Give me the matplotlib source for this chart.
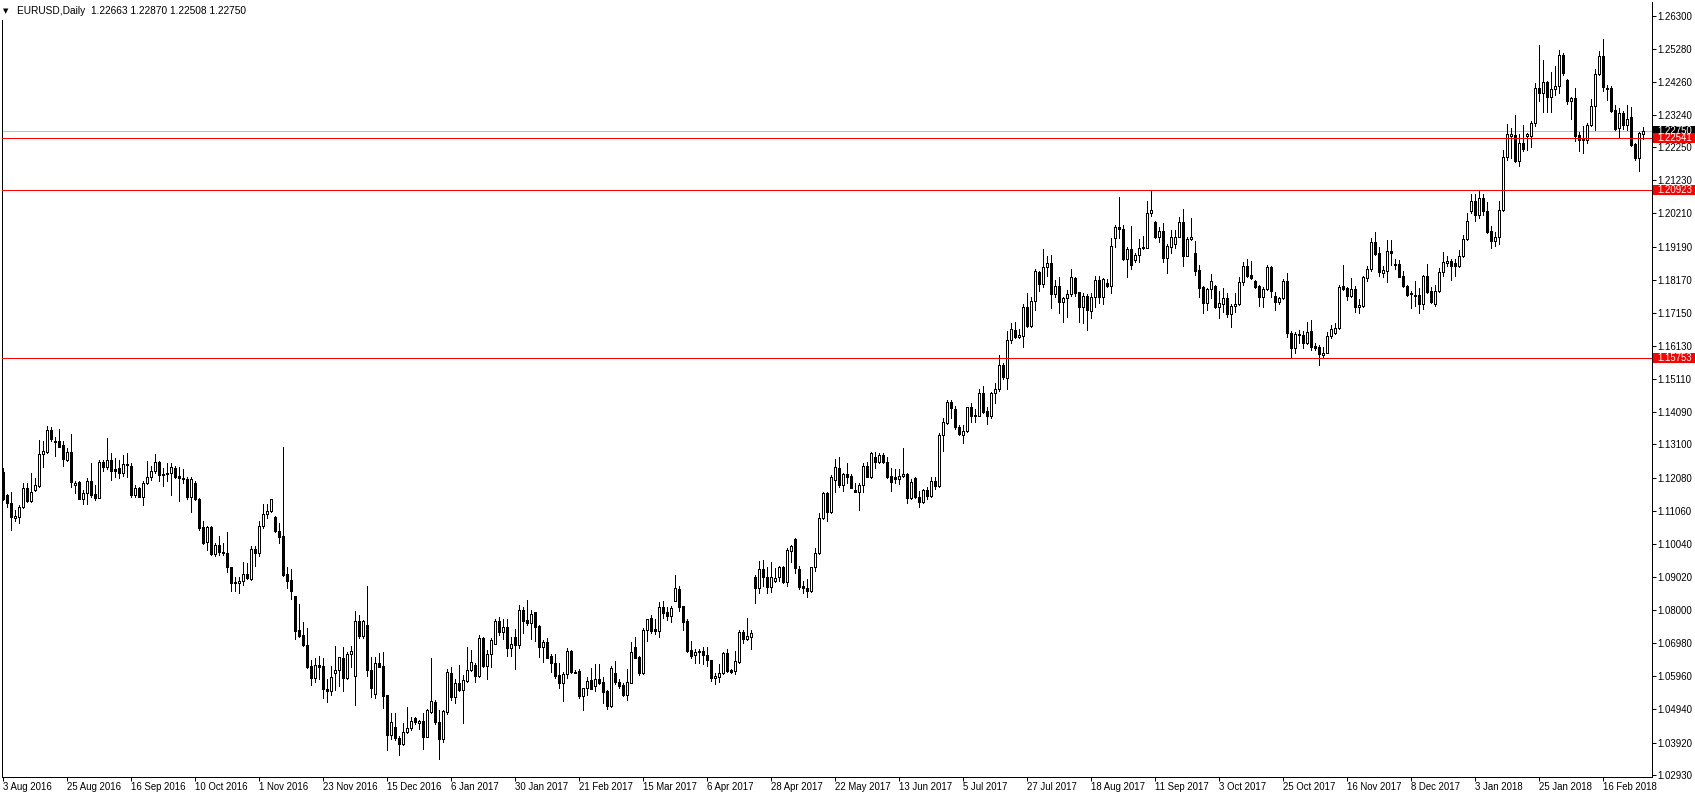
import numpy as np
import matplotlib
matplotlib.use("Agg")
import matplotlib.pyplot as plt
from matplotlib.patches import Rectangle
import matplotlib.transforms as mtransforms

plt.rcParams['font.family'] = ['Liberation Sans', 'DejaVu Sans']

# EURUSD daily candles, prices in points (1/10000)
opens = [11226, 11153, 11129, 11083, 11088, 11116, 11175, 11137, 11170, 11182, 11280, 11288, 11355, 11321, 11320, 11308,
         11262, 11286, 11184, 11193, 11143, 11160, 11198, 11157, 11146, 11256, 11239, 11262, 11235, 11237, 11221, 11246,
         11244, 11153, 11175, 11149, 11190, 11209, 11228, 11255, 11219, 11219, 11221, 11237, 11213, 11207, 11205, 11149,
         11190, 11142, 11055, 11009, 11056, 10973, 11000, 10980, 10975, 10932, 10885, 10883, 10888, 10911, 10896, 10988,
         10977, 11059, 11095, 11106, 11086, 11043, 11028, 10911, 10893, 10842, 10739, 10724, 10693, 10628, 10590, 10630,
         10628, 10556, 10552, 10606, 10616, 10652, 10590, 10665, 10598, 10767, 10721, 10754, 10616, 10541, 10636, 10628,
         10537, 10416, 10439, 10406, 10387, 10424, 10436, 10467, 10451, 10457, 10410, 10487, 10517, 10455, 10403, 10485,
         10605, 10531, 10574, 10554, 10583, 10614, 10631, 10598, 10714, 10629, 10664, 10697, 10766, 10731, 10748, 10682,
         10716, 10693, 10800, 10769, 10759, 10794, 10751, 10685, 10701, 10658, 10636, 10600, 10576, 10602, 10674, 10610,
         10612, 10536, 10559, 10585, 10566, 10587, 10577, 10551, 10506, 10605, 10580, 10570, 10540, 10576, 10686, 10656,
         10605, 10738, 10776, 10741, 10737, 10808, 10793, 10783, 10829, 10864, 10812, 10767, 10676, 10663, 10670, 10673,
         10663, 10645, 10590, 10595, 10605, 10667, 10614, 10612, 10641, 10731, 10710, 10718, 10901, 10867, 10926, 10903,
         10872, 10891, 10901, 10932, 10885, 10983, 11019, 10927, 10874, 10867, 10860, 10932, 10975, 11082, 11161, 11102,
         11201, 11237, 11184, 11219, 11213, 11170, 11162, 11185, 11244, 11211, 11272, 11255, 11277, 11255, 11213, 11209,
         11203, 11213, 11219, 11146, 11206, 11149, 11134, 11169, 11152, 11196, 11181, 11339, 11377, 11440, 11419, 11365,
         11340, 11350, 11424, 11400, 11399, 11467, 11413, 11396, 11467, 11480, 11554, 11516, 11630, 11662, 11640, 11645,
         11732, 11676, 11753, 11840, 11803, 11855, 11868, 11772, 11798, 11750, 11760, 11772, 11821, 11778, 11734, 11767,
         11722, 11763, 11815, 11763, 11806, 11799, 11945, 11978, 11973, 11882, 11912, 11879, 11893, 11918, 11916, 12021,
         11996, 11950, 11967, 11885, 11919, 11927, 11950, 11994, 11891, 11941, 11898, 11846, 11795, 11744, 11788, 11798,
         11732, 11743, 11760, 11711, 11737, 11741, 11809, 11859, 11832, 11814, 11798, 11765, 11788, 11855, 11768, 11747,
         11760, 11813, 11654, 11606, 11650, 11647, 11621, 11659, 11613, 11611, 11585, 11593, 11644, 11654, 11668, 11798,
         11791, 11768, 11790, 11733, 11737, 11822, 11850, 11932, 11899, 11837, 11845, 11906, 11865, 11865, 11829, 11798,
         11776, 11770, 11771, 11742, 11829, 11781, 11743, 11781, 11840, 11870, 11875, 11868, 11858, 11889, 11942, 12030,
         12058, 12015, 12068, 12029, 11967, 11935, 11948, 12031, 12195, 12261, 12263, 12184, 12237, 12261, 12261, 12299,
         12407, 12391, 12425, 12381, 12404, 12414, 12509, 12432, 12366, 12377, 12263, 12251, 12246, 12292, 12352, 12451,
         12506, 12408, 12408, 12340, 12283, 12330, 12294, 12317, 12235, 12193, 12266]
highs = [11237, 11157, 11163, 11108, 11124, 11190, 11190, 11221, 11206, 11324, 11319, 11367, 11365, 11334, 11357, 11319,
         11298, 11342, 11196, 11196, 11170, 11206, 11252, 11185, 11262, 11262, 11329, 11285, 11267, 11262, 11278, 11283,
         11252, 11185, 11180, 11196, 11259, 11244, 11281, 11260, 11237, 11252, 11252, 11244, 11242, 11234, 11211, 11211,
         11196, 11144, 11073, 11059, 11059, 11008, 11028, 11006, 11040, 10934, 10903, 10903, 10947, 10944, 10996, 10996,
         11073, 11127, 11127, 11143, 11090, 11069, 11301, 10932, 10926, 10842, 10819, 10762, 10746, 10647, 10652, 10660,
         10652, 10587, 10629, 10688, 10657, 10686, 10672, 10690, 10798, 10785, 10770, 10874, 10657, 10657, 10669, 10670,
         10539, 10483, 10483, 10413, 10452, 10501, 10470, 10472, 10463, 10484, 10494, 10653, 10523, 10492, 10492, 10618,
         10626, 10587, 10631, 10600, 10687, 10677, 10638, 10723, 10718, 10677, 10713, 10773, 10779, 10772, 10772, 10716,
         10743, 10815, 10808, 10831, 10800, 10795, 10753, 10708, 10713, 10665, 10665, 10636, 10610, 10683, 10677, 10615,
         10617, 10561, 10595, 10622, 10634, 10634, 10595, 10554, 10629, 10643, 10587, 10576, 10618, 10703, 10718, 10658,
         10744, 10774, 10785, 10771, 10824, 10828, 10808, 10812, 10908, 10875, 10813, 10771, 10705, 10679, 10679, 10687,
         10687, 10646, 10607, 10634, 10672, 10679, 10617, 10674, 10738, 10738, 10777, 10740, 10908, 10952, 10954, 10934,
         10947, 10929, 10936, 10936, 10990, 11000, 11021, 10936, 10888, 10895, 10934, 10990, 11100, 11165, 11165, 11216,
         11265, 11272, 11223, 11252, 11219, 11192, 11190, 11254, 11257, 11286, 11286, 11285, 11283, 11272, 11236, 11234,
         11233, 11300, 11223, 11204, 11209, 11166, 11172, 11180, 11209, 11211, 11344, 11390, 11447, 11447, 11428, 11370,
         11370, 11426, 11439, 11419, 11480, 11490, 11424, 11472, 11498, 11586, 11560, 11659, 11685, 11688, 11664, 11742,
         11777, 11765, 11849, 11845, 11912, 11890, 11893, 11816, 11827, 11765, 11786, 11849, 11827, 11780, 11777, 11773,
         11777, 11829, 11829, 11823, 11818, 11945, 11986, 12073, 11986, 11919, 11983, 11900, 11941, 11952, 12060, 12091,
         11999, 11980, 11991, 11927, 11970, 11970, 12009, 12034, 11948, 12008, 11936, 11862, 11798, 11791, 11835, 11800,
         11783, 11791, 11777, 11742, 11775, 11827, 11872, 11882, 11875, 11816, 11801, 11794, 11861, 11859, 11780, 11763,
         11818, 11837, 11659, 11657, 11662, 11659, 11688, 11693, 11621, 11616, 11609, 11657, 11678, 11683, 11801, 11863,
         11796, 11822, 11798, 11757, 11830, 11858, 11945, 11963, 11919, 11858, 11940, 11940, 11880, 11878, 11845, 11801,
         11781, 11814, 11793, 11832, 11865, 11796, 11801, 11853, 11901, 11889, 11880, 11880, 11909, 11955, 12024, 12081,
         12081, 12092, 12081, 12055, 11981, 11965, 12058, 12217, 12297, 12284, 12325, 12265, 12294, 12270, 12306, 12422,
         12540, 12494, 12429, 12456, 12475, 12525, 12514, 12434, 12381, 12407, 12273, 12289, 12299, 12374, 12465, 12520,
         12559, 12417, 12414, 12355, 12345, 12338, 12355, 12348, 12239, 12271, 12287]
lows = [11139, 11117, 11045, 11073, 11069, 11114, 11134, 11132, 11168, 11178, 11242, 11285, 11322, 11273, 11302, 11245,
        11260, 11180, 11159, 11141, 11127, 11127, 11149, 11139, 11144, 11229, 11234, 11201, 11211, 11206, 11213, 11211,
        11149, 11149, 11147, 11124, 11188, 11201, 11223, 11196, 11182, 11196, 11153, 11208, 11137, 11190, 11141, 11103,
        11139, 11047, 11004, 10985, 10970, 10965, 10968, 10969, 10916, 10860, 10860, 10852, 10876, 10895, 10893, 10937,
        10965, 11052, 11083, 11103, 11040, 11008, 10906, 10867, 10833, 10710, 10716, 10688, 10621, 10570, 10580, 10588,
        10529, 10518, 10539, 10554, 10565, 10552, 10587, 10626, 10508, 10713, 10713, 10597, 10532, 10529, 10626, 10498,
        10370, 10403, 10401, 10354, 10383, 10423, 10431, 10450, 10433, 10372, 10408, 10484, 10449, 10342, 10393, 10480,
        10523, 10513, 10552, 10453, 10579, 10612, 10579, 10595, 10626, 10589, 10626, 10694, 10723, 10710, 10658, 10658,
        10620, 10684, 10730, 10754, 10711, 10706, 10656, 10641, 10651, 10610, 10592, 10561, 10521, 10592, 10605, 10605,
        10528, 10492, 10538, 10557, 10552, 10572, 10515, 10496, 10503, 10572, 10559, 10536, 10524, 10574, 10651, 10600,
        10603, 10706, 10728, 10725, 10718, 10776, 10769, 10762, 10829, 10798, 10738, 10672, 10653, 10636, 10636, 10634,
        10629, 10582, 10571, 10579, 10603, 10608, 10607, 10603, 10638, 10699, 10708, 10680, 10821, 10852, 10874, 10852,
        10857, 10885, 10888, 10882, 10874, 10949, 10915, 10864, 10854, 10839, 10857, 10921, 10973, 11080, 11075, 11098,
        11162, 11178, 11168, 11192, 11175, 11162, 11108, 11165, 11209, 11206, 11236, 11252, 11252, 11206, 11168, 11192,
        11188, 11211, 11131, 11141, 11146, 11118, 11131, 11141, 11149, 11172, 11180, 11291, 11373, 11392, 11356, 11339,
        11313, 11348, 11380, 11380, 11396, 11408, 11372, 11392, 11436, 11475, 11510, 11480, 11621, 11637, 11637, 11611,
        11673, 11670, 11724, 11783, 11796, 11830, 11729, 11763, 11716, 11688, 11703, 11767, 11767, 11688, 11683, 11662,
        11698, 11734, 11744, 11741, 11796, 11775, 11917, 11945, 11878, 11825, 11849, 11873, 11871, 11911, 11914, 12013,
        11945, 11932, 11873, 11839, 11900, 11914, 11948, 11860, 11890, 11939, 11831, 11765, 11716, 11724, 11762, 11729,
        11698, 11719, 11703, 11671, 11719, 11739, 11801, 11827, 11818, 11793, 11736, 11734, 11786, 11765, 11724, 11742,
        11757, 11642, 11575, 11593, 11623, 11606, 11618, 11601, 11601, 11555, 11580, 11591, 11637, 11650, 11665, 11786,
        11755, 11763, 11719, 11714, 11733, 11812, 11845, 11894, 11829, 11824, 11809, 11863, 11850, 11824, 11796, 11768,
        11730, 11735, 11716, 11726, 11776, 11745, 11737, 11778, 11829, 11858, 11817, 11829, 11856, 11887, 11938, 12022,
        11998, 12007, 12017, 11962, 11916, 11921, 11928, 12029, 12186, 12191, 12181, 12168, 12212, 12215, 12227, 12291,
        12366, 12335, 12335, 12335, 12386, 12391, 12448, 12358, 12313, 12245, 12212, 12207, 12239, 12289, 12278, 12448,
        12399, 12371, 12335, 12278, 12256, 12280, 12278, 12229, 12186, 12153, 12251]
closes = [11141, 11129, 11086, 11090, 11117, 11175, 11137, 11163, 11185, 11280, 11290, 11355, 11326, 11317, 11303, 11264,
          11286, 11193, 11190, 11143, 11160, 11198, 11155, 11146, 11256, 11239, 11262, 11229, 11229, 11221, 11249, 11250,
          11155, 11175, 11149, 11190, 11209, 11229, 11255, 11216, 11216, 11221, 11240, 11211, 11206, 11205, 11149, 11204,
          11141, 11053, 11008, 11057, 10973, 11000, 10980, 10975, 10932, 10883, 10883, 10888, 10910, 10898, 10988, 10977,
          11059, 11095, 11106, 11141, 11042, 11026, 10908, 10891, 10860, 10737, 10721, 10691, 10624, 10590, 10631, 10626,
          10556, 10552, 10595, 10616, 10654, 10590, 10665, 10674, 10767, 10721, 10767, 10614, 10560, 10636, 10626, 10536,
          10416, 10455, 10406, 10387, 10424, 10436, 10457, 10455, 10458, 10410, 10492, 10519, 10456, 10403, 10488, 10609,
          10531, 10574, 10554, 10585, 10614, 10641, 10598, 10714, 10629, 10664, 10708, 10766, 10731, 10748, 10682, 10697,
          10693, 10800, 10767, 10759, 10787, 10749, 10685, 10701, 10653, 10638, 10598, 10576, 10602, 10674, 10608, 10605,
          10536, 10559, 10583, 10557, 10587, 10576, 10549, 10506, 10622, 10577, 10567, 10538, 10577, 10670, 10653, 10605,
          10738, 10772, 10735, 10737, 10808, 10792, 10783, 10805, 10867, 10808, 10764, 10674, 10658, 10671, 10673, 10661,
          10645, 10592, 10597, 10605, 10667, 10612, 10610, 10644, 10731, 10710, 10720, 10728, 10867, 10926, 10903, 10872,
          10901, 10898, 10932, 10885, 10985, 10998, 10929, 10872, 10867, 10860, 10932, 10975, 11083, 11161, 11102, 11210,
          11241, 11184, 11219, 11211, 11177, 11162, 11185, 11244, 11211, 11283, 11255, 11277, 11255, 11211, 11195, 11203,
          11213, 11219, 11146, 11193, 11149, 11134, 11169, 11152, 11196, 11181, 11339, 11378, 11440, 11421, 11365, 11342,
          11350, 11424, 11399, 11398, 11467, 11411, 11399, 11467, 11480, 11554, 11517, 11631, 11664, 11642, 11647, 11732,
          11676, 11752, 11844, 11803, 11856, 11868, 11772, 11798, 11750, 11760, 11772, 11825, 11777, 11734, 11768, 11724,
          11765, 11815, 11763, 11819, 11799, 11921, 11978, 11972, 11882, 11912, 11863, 11893, 11914, 11914, 12021, 12032,
          11949, 11967, 11885, 11921, 11948, 11950, 11994, 11891, 11942, 11948, 11845, 11793, 11744, 11788, 11814, 11732,
          11744, 11760, 11711, 11736, 11741, 11809, 11859, 11830, 11821, 11796, 11765, 11788, 11855, 11782, 11747, 11760,
          11813, 11652, 11608, 11650, 11647, 11621, 11657, 11609, 11606, 11589, 11593, 11644, 11665, 11668, 11796, 11790,
          11768, 11790, 11733, 11740, 11824, 11851, 11932, 11897, 11840, 11847, 11906, 11899, 11863, 11827, 11798, 11771,
          11774, 11768, 11742, 11829, 11778, 11750, 11781, 11840, 11871, 11875, 11858, 11858, 11889, 11942, 11997, 12058,
          12015, 12068, 12030, 11965, 11935, 11948, 12031, 12195, 12265, 12265, 12184, 12237, 12220, 12265, 12299, 12407,
          12391, 12425, 12381, 12404, 12414, 12509, 12453, 12366, 12377, 12261, 12246, 12246, 12292, 12352, 12451, 12506,
          12409, 12404, 12338, 12281, 12330, 12294, 12312, 12232, 12193, 12268, 12275]

# date labels on the time scale, one every 16 bars
date_labels = ["3 Aug 2016", "25 Aug 2016", "16 Sep 2016", "10 Oct 2016", "1 Nov 2016", "23 Nov 2016",
               "15 Dec 2016", "6 Jan 2017", "30 Jan 2017", "21 Feb 2017", "15 Mar 2017", "6 Apr 2017",
               "28 Apr 2017", "22 May 2017", "13 Jun 2017", "5 Jul 2017", "27 Jul 2017", "18 Aug 2017",
               "11 Sep 2017", "3 Oct 2017", "25 Oct 2017", "16 Nov 2017", "8 Dec 2017", "3 Jan 2018",
               "25 Jan 2018", "16 Feb 2018"]
price_labels = ["1.26300", "1.25280", "1.24260", "1.23240", "1.22250", "1.21230", "1.20210", "1.19190",
                "1.18170", "1.17150", "1.16130", "1.15110", "1.14090", "1.13100", "1.12080", "1.11060",
                "1.10040", "1.09020", "1.08000", "1.06980", "1.05960", "1.04940", "1.03920", "1.02930"]
levels = [1.22541, 1.20923, 1.15753]
bid = 1.22750

o = np.array(opens) / 10000
h = np.array(highs) / 10000
l = np.array(lows) / 10000
c = np.array(closes) / 10000
x = np.arange(len(o))

W, H = 1695, 798
fig = plt.figure(figsize=(W / 100, H / 100), dpi=100)
ax = fig.add_axes([2 / W, 21 / H, 1650 / W, 775 / H])
ax.set_xlim(-0.25, 412.25)
ax.set_ylim(1.02860, 1.26722)

px = 0.72  # one pixel in points
fs = 6.9
up = c >= o
ax.vlines(x, l, h, colors='black', linewidth=px, antialiased=False, zorder=2)
ax.bar(x, np.abs(c - o), bottom=np.minimum(o, c), width=0.5,
       color=np.where(up, 'white', 'black'), edgecolor='black', linewidth=px,
       antialiased=False, zorder=3)

# bid line and support/resistance lines
ax.axhline(bid, color='#c0c0c0', linewidth=px, antialiased=False, zorder=1)
for lv in levels:
    ax.axhline(lv, color='#ff0000', linewidth=px, antialiased=False, zorder=4)

# axes look like the MT4 window
ax.spines['top'].set_visible(False)
for s in ['left', 'right', 'bottom']:
    ax.spines[s].set_linewidth(px)
ax.yaxis.tick_right()
ax.set_yticks([float(v) for v in price_labels], price_labels)
ax.set_xticks(np.arange(0, 401, 16), date_labels, ha='left')
ax.tick_params(axis='y', length=3.5 * px, width=px, pad=1.5, labelsize=fs)
ax.tick_params(axis='x', length=4 * px, width=px, pad=1.0, labelsize=fs)

# price tags on the scale
trans = mtransforms.blended_transform_factory(ax.transAxes, ax.transData)
tag_h = 10 * 0.0003079
for val, col in [(bid, 'black')] + [(lv, '#ff0000') for lv in levels]:
    ax.add_patch(Rectangle((1.0007, val - tag_h / 2), 0.0255, tag_h, transform=trans,
                           facecolor=col, edgecolor='none', clip_on=False, zorder=5))
    ax.text(1.0035, val, "%.5f" % val, transform=trans, color='white', fontsize=fs,
            va='center', ha='left', clip_on=False, zorder=6)

# title in the top left corner
fig.patches.append(Rectangle((0, 1 - 20 / H), 240 / W, 20 / H, transform=fig.transFigure,
                             facecolor='white', edgecolor='none'))
fig.text(2.5 / W, 1 - 11 / H, "\u25bc", fontsize=5, family='DejaVu Sans', va='center')
fig.text(17 / W, 1 - 11 / H, "EURUSD,Daily  1.22663 1.22870 1.22508 1.22750", fontsize=7.3, va='center')

fig.savefig('out.png', dpi=100)
